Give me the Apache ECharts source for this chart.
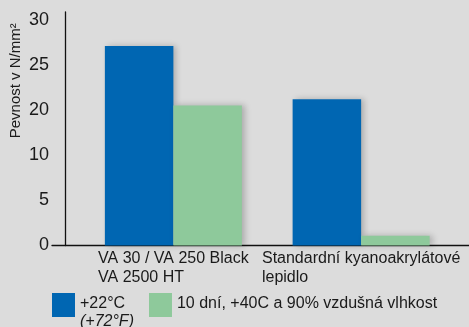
<!DOCTYPE html>
<html>
<head>
<meta charset="utf-8">
<script src="https://cdn.jsdelivr.net/npm/echarts@6/dist/echarts.min.js"></script>
<style>
html,body{margin:0;padding:0;background:#dcdcdc;}
#c{width:469px;height:327px;}
</style>
</head>
<body>
<div id="c"></div>
<script>
const categories = ['VA 30 / VA 250 Black\nVA 2500 HT', 'Standardní kyanoakrylátové\nlepidlo'];
const seriesNames = ['+22°C', '10 dní, +40C a 90% vzdušná vlhkost'];
const seriesNote = '(+72°F)';
const valuesRoom = [26.5, 19.4];
const valuesHumid = [18.6, 1.3];
const tickLabels = ['0', '5', '10', '20', '25', '30'];
const tickStep = 6;
const yName = 'Pevnost v N/mm²';

const FONT = 'Liberation Sans, Arial, sans-serif';
const TXT = '#1a1a1a';

const chart = echarts.init(document.getElementById('c'), null, {renderer: 'canvas'});
chart.setOption({
  backgroundColor: '#dcdcdc',
  animation: false,
  textStyle: {fontFamily: FONT, color: TXT},
  grid: [
    {left: 77, right: 14, top: 12, bottom: 81.5, containLabel: false},
    {left: 52, right: 0, top: 12, bottom: 81.5, containLabel: false}
  ],
  xAxis: [
    {
      type: 'category', gridIndex: 0, data: categories,
      axisLine: {show: false}, axisTick: {show: false},
      axisLabel: {
        interval: 0, margin: 4, color: TXT, fontFamily: FONT, fontSize: 16, lineHeight: 19,
        formatter: v => v.split('\n').map(s => '{l|' + s + '}').join('\n'),
        rich: {l: {align: 'left', fontSize: 16, lineHeight: 19, fontFamily: FONT, color: TXT}}
      }
    },
    {
      type: 'value', gridIndex: 1, min: 0, max: 1,
      axisLine: {show: true, lineStyle: {color: '#111', width: 1.3}},
      axisTick: {show: false}, axisLabel: {show: false}, splitLine: {show: false}
    }
  ],
  yAxis: [
    {
      type: 'value', gridIndex: 0, min: 0, max: 31, interval: tickStep, offset: 14.5,
      name: yName, nameLocation: 'middle', nameGap: 42, nameRotate: 90,
      nameMoveOverlap: false,
      nameTextStyle: {fontFamily: FONT, fontSize: 15, color: TXT, padding: [0, 0, 0, 96]},
      axisLine: {show: true, lineStyle: {color: '#111', width: 1.3}},
      axisTick: {show: false}, splitLine: {show: false},
      axisLabel: {
        margin: 16, color: TXT, fontFamily: FONT, fontSize: 18,
        formatter: v => (v % tickStep === 0 && tickLabels[v / tickStep] !== undefined) ? tickLabels[v / tickStep] : '',
        showMaxLabel: true
      }
    },
    {type: 'value', gridIndex: 1, show: false, min: 0, max: 1}
  ],
  legend: {
    left: 52, top: 293, padding: 0, orient: 'horizontal', icon: 'rect', itemWidth: 23, itemHeight: 24, itemGap: 15,
    textStyle: {fontFamily: FONT, fontSize: 16, color: TXT,
      rich: {a: {fontSize: 16, lineHeight: 18, fontFamily: FONT, color: TXT},
             b: {fontSize: 16, lineHeight: 18, fontFamily: FONT, color: TXT, fontStyle: 'italic'}}},
    formatter: n => n === seriesNames[0] ? '{a|' + n + '}\n{b|' + seriesNote + '}' : n,
    data: [
      {name: seriesNames[0], textStyle: {padding: [16, 0, 0, 0]}},
      {name: seriesNames[1], textStyle: {padding: [0, 0, 3, 0]}}
    ]
  },
  series: [
    {
      name: seriesNames[0], type: 'bar', xAxisIndex: 0, yAxisIndex: 0, data: valuesRoom,
      barWidth: 68.5, barGap: '0%',
      itemStyle: {color: '#0066b2', shadowColor: 'rgba(0,0,0,0.22)', shadowBlur: 6, shadowOffsetX: 3}
    },
    {
      name: seriesNames[1], type: 'bar', xAxisIndex: 0, yAxisIndex: 0, data: valuesHumid,
      barWidth: 68.5, barGap: '0%',
      itemStyle: {color: '#8ec99b', shadowColor: 'rgba(0,0,0,0.22)', shadowBlur: 6, shadowOffsetX: 3}
    }
  ]
});
</script>
</body>
</html>
